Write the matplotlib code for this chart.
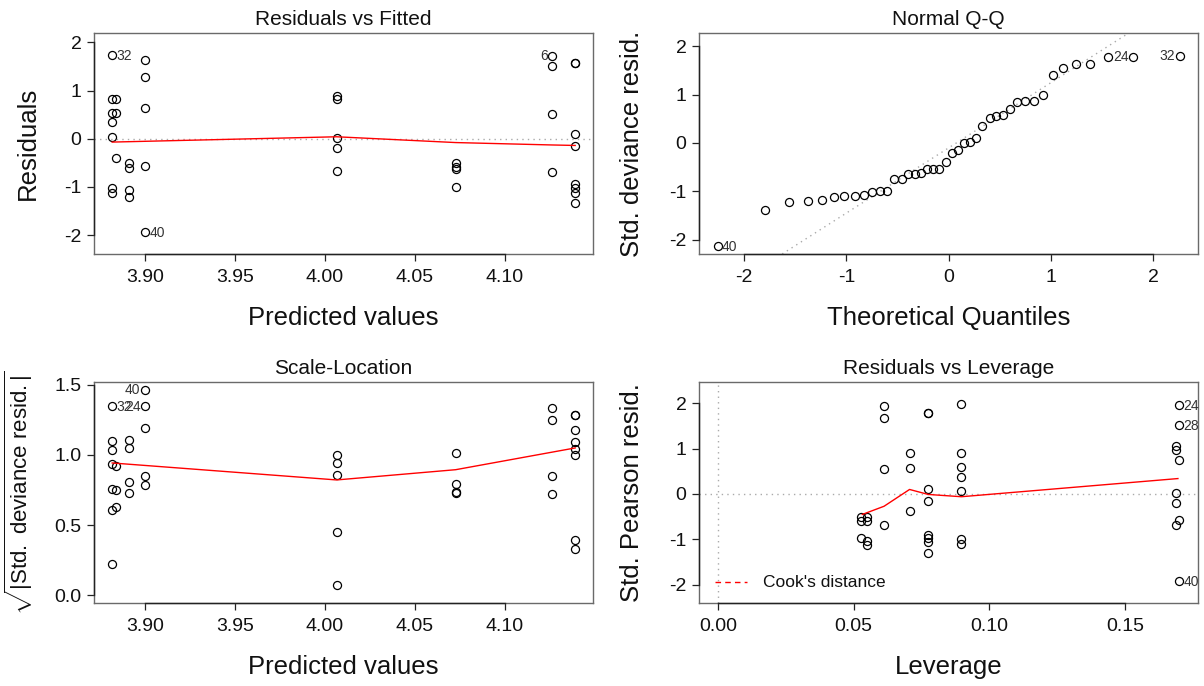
import matplotlib
matplotlib.use("Agg")
import matplotlib.pyplot as plt

plt.rcParams['font.family'] = ['Liberation Sans', 'DejaVu Sans']
plt.rcParams['axes.unicode_minus'] = False
plt.rcParams['mathtext.fontset'] = 'custom'
plt.rcParams['mathtext.rm'] = 'Liberation Sans'
plt.rcParams['mathtext.it'] = 'Liberation Sans:italic'
plt.rcParams['mathtext.bf'] = 'Liberation Sans:bold'

# ---------------- data ----------------
# Residuals vs Fitted
rf_fitted = [3.8818, 3.8818, 3.8818, 3.8818, 3.8818, 3.8818, 3.8818,
             3.8837, 3.8837, 3.8837,
             3.8909, 3.8909, 3.8909, 3.8909,
             3.9000, 3.9000, 3.9000, 3.9000, 3.9000,
             4.0065, 4.0065, 4.0065, 4.0065, 4.0065,
             4.0726, 4.0726, 4.0726, 4.0726,
             4.1262, 4.1262, 4.1262, 4.1262,
             4.1390, 4.1390, 4.1390, 4.1390, 4.1390, 4.1390, 4.1390, 4.1390]
rf_resid = [1.73, 0.83, 0.54, 0.34, 0.04, -1.03, -1.13,
            0.83, 0.54, -0.39,
            -0.51, -0.60, -1.06, -1.20,
            1.64, 1.28, 0.64, -0.57, -1.94,
            0.89, 0.82, 0.01, -0.19, -0.67,
            -0.51, -0.58, -0.63, -1.00,
            1.72, 1.50, 0.51, -0.69,
            1.58, 1.58, 0.10, -0.15, -0.95, -1.03, -1.13, -1.33]
rf_smooth_x = [3.8818, 4.0065, 4.0726, 4.1262, 4.1390]
rf_smooth_y = [-0.07, 0.04, -0.08, -0.13, -0.14]
rf_labels = ["32", "40", "6"]
rf_label_x = [3.8818, 3.9000, 4.1262]
rf_label_y = [1.73, -1.94, 1.72]
rf_label_side = ["right", "right", "left"]

# Normal Q-Q
qq_theo = [-2.26, -1.80, -1.56, -1.38, -1.24, -1.12, -1.02, -0.92, -0.83, -0.75,
           -0.67, -0.60, -0.53, -0.46, -0.40, -0.33, -0.27, -0.21, -0.15, -0.09,
           -0.03, 0.03, 0.09, 0.15, 0.21, 0.27, 0.33, 0.40, 0.46, 0.53,
           0.60, 0.67, 0.75, 0.83, 0.92, 1.02, 1.12, 1.24, 1.38, 1.56,
           1.80, 2.26]
qq_resid = [-2.14, -1.38, -1.22, -1.21, -1.19, -1.11, -1.09, -1.09, -1.08, -1.02,
            -0.99, -0.99, -0.74, -0.74, -0.65, -0.64, -0.62, -0.54, -0.54, -0.54,
            -0.39, -0.21, -0.15, 0.00, 0.02, 0.10, 0.36, 0.52, 0.55, 0.57,
            0.71, 0.85, 0.86, 0.86, 0.99, 1.41, 1.55, 1.64, 1.64, 1.78,
            1.79, 1.81]
qq_line_intercept = -0.10
qq_line_slope = 1.35
qq_labels = ["40", "24", "32"]
qq_label_x = [-2.26, 1.80, 2.26]
qq_label_y = [-2.14, 1.79, 1.81]
qq_label_side = ["right", "left", "left"]

# Scale-Location
sl_fitted = [3.8818, 3.8818, 3.8818, 3.8818, 3.8818, 3.8818, 3.8818,
             3.8837, 3.8837, 3.8837,
             3.8909, 3.8909, 3.8909, 3.8909,
             3.9000, 3.9000, 3.9000, 3.9000, 3.9000,
             4.0065, 4.0065, 4.0065, 4.0065, 4.0065,
             4.0726, 4.0726, 4.0726, 4.0726,
             4.1262, 4.1262, 4.1262, 4.1262,
             4.1390, 4.1390, 4.1390, 4.1390, 4.1390, 4.1390, 4.1390, 4.1390]
sl_vals = [1.349, 1.098, 1.038, 0.939, 0.760, 0.606, 0.226,
           0.922, 0.748, 0.629,
           1.110, 1.050, 0.805, 0.732,
           1.466, 1.349, 1.193, 0.848, 0.789,
           0.998, 0.946, 0.860, 0.449, 0.071,
           1.017, 0.796, 0.738, 0.729,
           1.338, 1.247, 0.848, 0.722,
           1.288, 1.288, 1.176, 1.093, 1.046, 0.998, 0.397, 0.333]
sl_smooth_x = [3.8818, 4.0065, 4.0726, 4.1390]
sl_smooth_y = [0.943, 0.822, 0.895, 1.050]
sl_labels = ["40", "32", "24"]
sl_label_x = [3.9000, 3.8818, 3.9000]
sl_label_y = [1.466, 1.349, 1.349]
sl_label_side = ["left", "right", "left"]

# Residuals vs Leverage
lv_lev = [0.0527, 0.0527, 0.0527,
          0.0550, 0.0550, 0.0550, 0.0550,
          0.0612, 0.0612, 0.0612, 0.0612,
          0.0706, 0.0706, 0.0706,
          0.0775, 0.0775, 0.0775, 0.0775, 0.0775, 0.0775, 0.0775, 0.0775,
          0.0897, 0.0897, 0.0897, 0.0897, 0.0897, 0.0897, 0.0897,
          0.1700, 0.1700, 0.1700, 0.1700, 0.1700,
          0.1689, 0.1689, 0.1689, 0.1689, 0.1689]
lv_pearson = [-0.51, -0.59, -0.96,
              -0.51, -0.59, -1.04, -1.13,
              1.94, 1.67, 0.54, -0.69,
              0.90, 0.57, -0.38,
              1.78, 1.78, 0.12, -0.15, -0.91, -0.98, -1.06, -1.29,
              1.98, 0.91, 0.59, 0.37, 0.06, -1.00, -1.10,
              1.95, 1.51, 0.74, -0.58, -1.92,
              1.05, 0.98, 0.02, -0.19, -0.69]
lv_smooth_x = [0.0532, 0.0612, 0.0706, 0.0775, 0.0897, 0.1695]
lv_smooth_y = [-0.45, -0.27, 0.10, -0.01, -0.06, 0.34]
lv_labels = ["24", "28", "40"]
lv_label_x = [0.1700, 0.1700, 0.1700]
lv_label_y = [1.95, 1.51, -1.92]
lv_label_side = ["right", "right", "right"]

# ---------------- figure ----------------
W, H = 1204.0, 686.0
fig = plt.figure(figsize=(W / 100, H / 100), dpi=100)


def make_ax(l, t, r, b):
    return fig.add_axes([l / W, 1 - b / H, (r - l) / W, (b - t) / H])


ax1 = make_ax(94, 33, 593, 254)
ax2 = make_ax(699, 33, 1198, 254)
ax3 = make_ax(94, 382, 593, 603)
ax4 = make_ax(699, 382, 1198, 603)

TICK_FS = 14
LAB_FS = 18.5
TITLE_FS = 15
ID_FS = 10
PT_KW = dict(linestyle='none', marker='o', ms=5.8, mfc='none', mec='black', mew=0.9)
DOT_KW = dict(color='#aaaaaa', lw=1.0, linestyle=(0, (1, 3)))


def style(ax, xticks, xlabels, yticks, ylabels):
    for s in ax.spines.values():
        s.set_color('#6a6a6a')
        s.set_linewidth(1.0)
    ax.set_xticks(xticks)
    ax.set_xticklabels(xlabels)
    ax.set_yticks(yticks)
    ax.set_yticklabels(ylabels)
    ax.tick_params(axis='both', direction='out', length=5, width=0.9,
                   color='#222222', labelsize=TICK_FS, labelcolor='#111111')
    ax.tick_params(axis='x', pad=6)
    ax.tick_params(axis='y', pad=4)
    # R style axis line between first and last tick
    ax.plot([xticks[0], xticks[-1]], [0, 0], color='#222222', lw=1.0,
            transform=ax.get_xaxis_transform(), clip_on=False, zorder=5)
    ax.plot([0, 0], [yticks[0], yticks[-1]], color='#222222', lw=1.0,
            transform=ax.get_yaxis_transform(), clip_on=False, zorder=5)


def add_ids(ax, labels, xs, ys, sides):
    for lab, x, y, side in zip(labels, xs, ys, sides):
        dx = 3.2 if side == 'right' else -3.2
        ax.annotate(lab, (x, y), xytext=(dx, -0.5), textcoords='offset points',
                    ha='left' if side == 'right' else 'right', va='center',
                    fontsize=ID_FS, color='#333333', annotation_clip=False)


def set_labels(ax, title, xlabel, ylabel, ylab_x, ylab_fs=LAB_FS):
    ax.set_title(title, fontsize=TITLE_FS, pad=6, color='#111111')
    ax.set_xlabel(xlabel, fontsize=LAB_FS, color='#111111')
    ax.xaxis.set_label_coords(0.5, -64 / 221.0)
    ax.xaxis.label.set_va('center')
    ax.set_ylabel(ylabel, fontsize=ylab_fs, color='#111111')
    ax.yaxis.set_label_coords(ylab_x, 0.5)
    ax.yaxis.label.set_va('center')


# Panel 1: Residuals vs Fitted
ax1.axhline(0, **DOT_KW)
ax1.plot(rf_fitted, rf_resid, **PT_KW)
ax1.plot(rf_smooth_x, rf_smooth_y, color='red', lw=1.0)
ax1.set_xlim(3.8717, 4.1489)
ax1.set_ylim(-2.392, 2.193)
style(ax1, [3.90, 3.95, 4.00, 4.05, 4.10], ['3.90', '3.95', '4.00', '4.05', '4.10'],
      [-2, -1, 0, 1, 2], ['-2', '-1', '0', '1', '2'])
add_ids(ax1, rf_labels, rf_label_x, rf_label_y, rf_label_side)
set_labels(ax1, 'Residuals vs Fitted', 'Predicted values', 'Residuals', -66 / 499.0)

# Panel 2: Normal Q-Q
ax2.set_xlim(-2.441, 2.437)
ax2.set_ylim(-2.298, 2.277)
ax2.axline((0, qq_line_intercept), slope=qq_line_slope, **DOT_KW)
ax2.plot(qq_theo, qq_resid, **PT_KW)
style(ax2, [-2, -1, 0, 1, 2], ['-2', '-1', '0', '1', '2'],
      [-2, -1, 0, 1, 2], ['-2', '-1', '0', '1', '2'])
add_ids(ax2, qq_labels, qq_label_x, qq_label_y, qq_label_side)
set_labels(ax2, 'Normal Q-Q', 'Theoretical Quantiles', 'Std. deviance resid.', -67 / 499.0)

# Panel 3: Scale-Location
ax3.plot(sl_fitted, sl_vals, **PT_KW)
ax3.plot(sl_smooth_x, sl_smooth_y, color='red', lw=1.0)
ax3.set_xlim(3.8717, 4.1489)
ax3.set_ylim(-0.055, 1.520)
style(ax3, [3.90, 3.95, 4.00, 4.05, 4.10], ['3.90', '3.95', '4.00', '4.05', '4.10'],
      [0.0, 0.5, 1.0, 1.5], ['0.0', '0.5', '1.0', '1.5'])
add_ids(ax3, sl_labels, sl_label_x, sl_label_y, sl_label_side)
set_labels(ax3, 'Scale-Location', 'Predicted values',
           r'$\sqrt{|\mathrm{Std.\ deviance\ resid.}|}$', -75 / 499.0, ylab_fs=16)

# Panel 4: Residuals vs Leverage
ax4.axhline(0, **DOT_KW)
ax4.axvline(0, **DOT_KW)
ax4.plot(lv_lev, lv_pearson, **PT_KW)
ax4.plot(lv_smooth_x, lv_smooth_y, color='red', lw=1.0)
ax4.set_xlim(-0.0070, 0.1769)
ax4.set_ylim(-2.401, 2.467)
style(ax4, [0.00, 0.05, 0.10, 0.15], ['0.00', '0.05', '0.10', '0.15'],
      [-2, -1, 0, 1, 2], ['-2', '-1', '0', '1', '2'])
add_ids(ax4, lv_labels, lv_label_x, lv_label_y, lv_label_side)
set_labels(ax4, 'Residuals vs Leverage', 'Leverage', 'Std. Pearson resid.', -67 / 499.0)
ax4.plot([0.032, 0.096], [0.095, 0.095], transform=ax4.transAxes, color='red',
         lw=1.0, linestyle=(0, (4, 3)))
ax4.text(0.128, 0.095, "Cook's distance", transform=ax4.transAxes, fontsize=12.5,
         va='center', ha='left', color='#111111')

fig.savefig('out.png', dpi=100)
